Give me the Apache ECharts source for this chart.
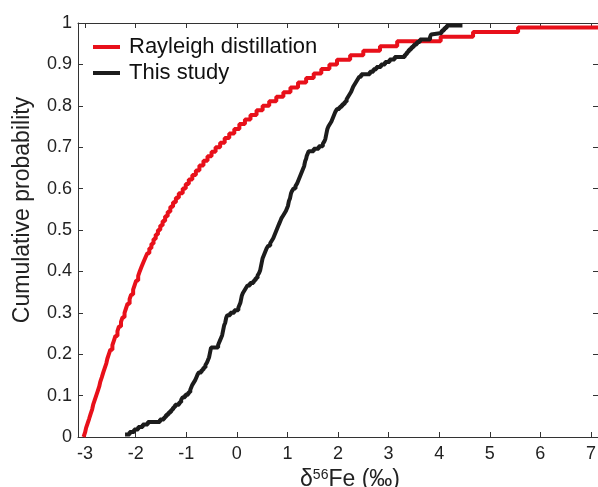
<!DOCTYPE html>
<html>
<head>
<meta charset="utf-8">
<script src="https://cdn.jsdelivr.net/npm/echarts@6/dist/echarts.min.js"></script>
<style>
html,body{margin:0;padding:0;background:#fff;}
#c{width:598px;height:487px;}
</style>
</head>
<body>
<div id="c"></div>
<script>
// ---- data ----
const seriesNames = ['Rayleigh distillation', 'This study'];
const xTicks = [-3, -2, -1, 0, 1, 2, 3, 4, 5, 6, 7];
const yTicks = [0, 0.1, 0.2, 0.3, 0.4, 0.5, 0.6, 0.7, 0.8, 0.9, 1];

// Rayleigh distillation: cumulative probability staircase
const rayleighX = [-3.03,-3.00,-2.98,-2.95,-2.92,-2.89,-2.86,-2.84,-2.81,-2.78,
  -2.75,-2.72,-2.70,-2.67,-2.64,-2.61,-2.58,-2.56,-2.53,-2.50,
  -2.46,-2.43,-2.40,-2.36,-2.33,-2.29,-2.26,-2.22,-2.19,-2.16,
  -2.12,-2.09,-2.05,-2.02,-1.99,-1.95,-1.92,-1.884,-1.847,-1.809,
  -1.770,-1.730,-1.689,-1.647,-1.604,-1.560,-1.514,-1.467,-1.418,-1.367,
  -1.315,-1.261,-1.205,-1.147,-1.07,-1.01,-0.95,-0.88,-0.81,-0.74,
  -0.66,-0.58,-0.50,-0.42,-0.33,-0.24,-0.15,-0.05,0.05,0.16,
  0.27,0.39,0.51,0.64,0.78,0.92,1.06,1.21,1.37,1.52,
  1.67,1.83,1.98,2.24,2.50,2.83,3.17,4.03,4.67,5.56,7.14];
const rayleighP = [0,0.011,0.022,0.033,0.044,0.056,0.067,0.078,0.089,0.1,
  0.111,0.122,0.133,0.144,0.156,0.167,0.178,0.189,0.2,0.211,
  0.222,0.233,0.244,0.256,0.267,0.278,0.289,0.3,0.311,0.322,
  0.333,0.344,0.356,0.367,0.378,0.389,0.4,0.411,0.422,0.433,
  0.444,0.456,0.467,0.478,0.489,0.5,0.511,0.522,0.533,0.544,
  0.556,0.567,0.578,0.589,0.6,0.611,0.622,0.633,0.644,0.656,
  0.667,0.678,0.689,0.7,0.711,0.722,0.733,0.744,0.756,0.767,
  0.778,0.789,0.8,0.811,0.822,0.833,0.844,0.856,0.867,0.878,
  0.889,0.9,0.911,0.922,0.933,0.944,0.956,0.967,0.978,0.989,0.989];

// This study: empirical cumulative probability staircase
const studyX = [-2.21,-2.12,-2.03,-1.95,-1.86,-1.76,-1.52,-1.44,-1.40,-1.35,
  -1.30,-1.26,-1.22,-1.14,-1.10,-1.07,-1.02,-0.96,-0.92,-0.90,
  -0.88,-0.85,-0.82,-0.80,-0.78,-0.75,-0.70,-0.66,-0.62,-0.59,
  -0.57,-0.55,-0.54,-0.53,-0.52,-0.51,-0.37,-0.35,-0.33,-0.31,
  -0.29,-0.28,-0.27,-0.26,-0.25,-0.23,-0.22,-0.21,-0.19,-0.13,
  -0.05,0.03,0.05,0.07,0.08,0.09,0.10,0.12,0.15,0.18,
  0.21,0.26,0.33,0.37,0.41,0.44,0.46,0.47,0.48,0.49,
  0.50,0.51,0.53,0.55,0.57,0.59,0.62,0.66,0.69,0.72,
  0.74,0.76,0.78,0.80,0.82,0.84,0.86,0.88,0.91,0.94,
  0.97,0.99,1.01,1.02,1.03,1.05,1.06,1.07,1.09,1.12,
  1.16,1.19,1.21,1.23,1.25,1.27,1.29,1.31,1.33,1.34,
  1.35,1.37,1.38,1.40,1.42,1.52,1.62,1.70,1.73,1.75,
  1.76,1.77,1.78,1.79,1.81,1.84,1.87,1.89,1.91,1.93,
  1.95,1.98,2.03,2.08,2.13,2.17,2.20,2.23,2.26,2.28,
  2.30,2.33,2.36,2.39,2.42,2.46,2.63,2.70,2.76,2.85,
  2.93,3.02,3.12,3.32,3.36,3.40,3.45,3.50,3.56,3.62,
  3.82,3.84,3.86,4.05,4.10,4.15,4.46];
const studyP = [0.006,0.012,0.018,0.024,0.030,0.036,0.042,0.048,0.054,0.060,
  0.066,0.072,0.078,0.084,0.090,0.096,0.102,0.108,0.114,0.120,
  0.126,0.132,0.138,0.144,0.150,0.156,0.162,0.168,0.174,0.180,
  0.186,0.192,0.198,0.204,0.210,0.216,0.222,0.228,0.234,0.240,
  0.246,0.252,0.258,0.264,0.270,0.276,0.282,0.288,0.294,0.300,
  0.306,0.312,0.318,0.324,0.330,0.336,0.342,0.348,0.354,0.360,
  0.366,0.372,0.378,0.384,0.390,0.396,0.402,0.408,0.414,0.420,
  0.426,0.432,0.438,0.444,0.450,0.456,0.462,0.468,0.474,0.480,
  0.486,0.492,0.498,0.504,0.510,0.516,0.522,0.528,0.534,0.540,
  0.546,0.552,0.558,0.564,0.570,0.576,0.582,0.588,0.594,0.600,
  0.606,0.612,0.618,0.624,0.630,0.636,0.642,0.648,0.654,0.660,
  0.666,0.672,0.678,0.684,0.690,0.696,0.702,0.708,0.714,0.720,
  0.726,0.732,0.738,0.744,0.750,0.756,0.762,0.768,0.774,0.780,
  0.786,0.792,0.798,0.804,0.810,0.816,0.822,0.828,0.834,0.840,
  0.846,0.852,0.858,0.864,0.870,0.876,0.882,0.888,0.894,0.900,
  0.906,0.912,0.918,0.924,0.930,0.936,0.942,0.948,0.954,0.960,
  0.966,0.972,0.976,0.982,0.988,0.994,0.994];

// ---- chart ----
const FONT = '"Liberation Sans", Arial, sans-serif';
const AX = '#333';
const zip = (xs, ps) => xs.map((x, i) => [x, ps[i]]);

const chart = echarts.init(document.getElementById('c'), null, {renderer: 'canvas'});
const commonX = {
  type: 'value', min: -3.14, max: 7.14,
  splitLine: {show: false},
  axisLine: {show: true, onZero: false, lineStyle: {color: AX, width: 1}},
};
const commonY = {
  type: 'value', min: 0, max: 1, interval: 0.1,
  splitLine: {show: false},
  axisLine: {show: true, onZero: false, lineStyle: {color: AX, width: 1}},
};
chart.setOption({
  animation: false,
  backgroundColor: '#fff',
  grid: {left: 78, right: 0, top: 23, bottom: 50, containLabel: false, outerBoundsMode: 'none'},
  legend: {
    orient: 'vertical', left: 88, top: 31,
    itemWidth: 27, itemHeight: 4, itemGap: 4, icon: 'rect',
    data: seriesNames,
    textStyle: {fontFamily: FONT, fontSize: 22, color: '#111', padding: [0, 0, 0, 4]}
  },
  xAxis: [
    Object.assign({}, commonX, {
      position: 'bottom',
      axisTick: {show: true, inside: true, length: 5, customValues: xTicks, lineStyle: {color: AX}},
      axisLabel: {show: true, customValues: xTicks, margin: 8, fontFamily: FONT, fontSize: 18, color: '#222',
        formatter: v => String(v)},
      name: '{d|δ}{s|56}{n|Fe (‰)}',
      nameLocation: 'middle', nameGap: 30,
      nameTextStyle: {
        fontFamily: FONT, fontSize: 23, color: '#222', padding: [0, 0, 0, 24],
        rich: {
          d: {fontFamily: FONT, fontSize: 23, color: '#222'},
          s: {fontFamily: FONT, fontSize: 14, color: '#222', padding: [0, 0, 9, 0]},
          n: {fontFamily: FONT, fontSize: 23, color: '#222'}
        }
      }
    }),
    Object.assign({}, commonX, {
      position: 'top',
      axisTick: {show: true, inside: true, length: 5, customValues: xTicks, lineStyle: {color: AX}},
      axisLabel: {show: false}
    })
  ],
  yAxis: [
    Object.assign({}, commonY, {
      position: 'left',
      axisTick: {show: true, inside: true, length: 5, lineStyle: {color: AX}},
      axisLabel: {show: true, margin: 6, fontFamily: FONT, fontSize: 18, color: '#222',
        formatter: v => (v === 0 ? '0' : (Math.abs(v - 1) < 1e-9 ? '1' : v.toFixed(1)))},
      name: 'Cumulative probability',
      nameLocation: 'middle', nameGap: 44, nameRotate: 90,
      nameTextStyle: {fontFamily: FONT, fontSize: 23, color: '#222', padding: [0, 0, 0, 40]}
    }),
    Object.assign({}, commonY, {
      position: 'right',
      axisTick: {show: true, inside: true, length: 5, lineStyle: {color: AX}},
      axisLabel: {show: false}
    })
  ],
  series: [
    {
      name: seriesNames[0], type: 'line', step: 'end', showSymbol: false, symbol: 'none',
      xAxisIndex: 0, yAxisIndex: 0,
      data: zip(rayleighX, rayleighP),
      lineStyle: {color: '#e8101a', width: 4},
      itemStyle: {color: '#e8101a'}, z: 2
    },
    {
      name: seriesNames[1], type: 'line', step: 'end', showSymbol: false, symbol: 'none',
      xAxisIndex: 0, yAxisIndex: 0,
      data: zip(studyX, studyP),
      lineStyle: {color: '#1c1c1c', width: 4},
      itemStyle: {color: '#1c1c1c'}, z: 3
    }
  ]
});
</script>
</body>
</html>
